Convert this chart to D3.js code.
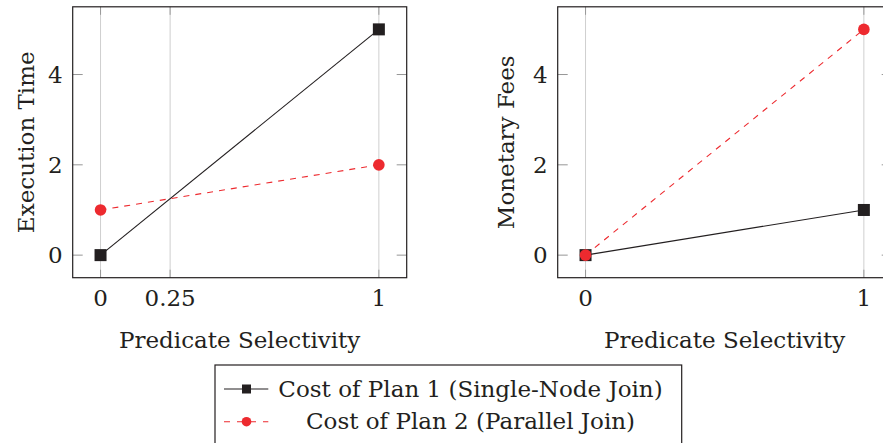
<!DOCTYPE html>
<html><head><meta charset="utf-8">
<script src="https://cdn.jsdelivr.net/npm/d3@7"></script>
<style>
html,body{margin:0;padding:0;background:#fff;}
svg{display:block;}
text{font-family:"DejaVu Serif",serif;fill:#231f20;}
</style></head>
<body>
<svg id="chart" width="883" height="443"></svg>
<script>
// ---- data ----
const selectivity = [0, 1];
const execPlan1 = [0, 5];
const execPlan2 = [1, 2];
const feesPlan1 = [0, 1];
const feesPlan2 = [0, 5];
const xTicksLeft = [0, 0.25, 1];
const xTickLabelsLeft = ["0", "0.25", "1"];
const xTicksRight = [0, 1];
const xTickLabelsRight = ["0", "1"];
const yTicks = [0, 2, 4];
const yTickLabels = ["0", "2", "4"];
const seriesNames = ["Cost of Plan 1 (Single-Node Join)", "Cost of Plan 2 (Parallel Join)"];
const xLabel = "Predicate Selectivity";
const yLabels = ["Execution Time", "Monetary Fees"];

const black = "#231f20", red = "#ed2a2f", grid = "#cfcfcf", tickC = "#8a8a8a";
const FS = 23;
const svg = d3.select("#chart");

function panel(opts){
  const x = d3.scaleLinear().domain([-0.1, 1.1]).range([opts.left, opts.right]);
  const y = d3.scaleLinear().domain([-0.5, 5.5]).range([277.7, 6.8]);
  const g = svg.append("g");
  // grid
  g.selectAll("line.grid").data(opts.xt).enter().append("line")
    .attr("x1", d=>x(d)).attr("x2", d=>x(d)).attr("y1", y(5.5)).attr("y2", y(-0.5))
    .attr("stroke", grid).attr("stroke-width", 1);
  // x ticks top & bottom
  opts.xt.forEach(d=>{
    g.append("line").attr("x1", x(d)).attr("x2", x(d)).attr("y1", y(-0.5)).attr("y2", y(-0.5)-8).attr("stroke", tickC).attr("stroke-width",0.8);
    g.append("line").attr("x1", x(d)).attr("x2", x(d)).attr("y1", y(5.5)).attr("y2", y(5.5)+8).attr("stroke", tickC).attr("stroke-width",0.8);
  });
  // y ticks left & right
  yTicks.forEach(d=>{
    g.append("line").attr("x1", x(-0.1)).attr("x2", x(-0.1)+10).attr("y1", y(d)).attr("y2", y(d)).attr("stroke", tickC).attr("stroke-width",0.9);
    g.append("line").attr("x1", x(1.1)).attr("x2", x(1.1)-10).attr("y1", y(d)).attr("y2", y(d)).attr("stroke", tickC).attr("stroke-width",0.9);
  });
  // box
  g.append("rect").attr("x", x(-0.1)).attr("y", y(5.5)).attr("width", x(1.1)-x(-0.1)).attr("height", y(-0.5)-y(5.5))
    .attr("fill","none").attr("stroke", black).attr("stroke-width", 1.2);
  // tick labels
  g.selectAll("text.xt").data(opts.xt).enter().append("text")
    .attr("x", d=>x(d)).attr("y", 306).attr("text-anchor","middle").attr("font-size", FS)
    .text((d,i)=>opts.xtl[i]);
  g.selectAll("text.yt").data(yTicks).enter().append("text")
    .attr("x", x(-0.1)-10).attr("y", d=>y(d)+8.3).attr("text-anchor","end").attr("font-size", FS)
    .text((d,i)=>yTickLabels[i]);
  // axis labels
  g.append("text").attr("x", (x(-0.1)+x(1.1))/2).attr("y", 347.7).attr("text-anchor","middle").attr("font-size", FS).text(xLabel);
  g.append("text").attr("transform", `translate(${opts.ylx},${(y(-0.5)+y(5.5))/2}) rotate(-90)`)
    .attr("text-anchor","middle").attr("font-size", FS).text(opts.ylabel);
  // series
  const line = d3.line().x(d=>x(d[0])).y(d=>y(d[1]));
  const p1 = selectivity.map((s,i)=>[s, opts.s1[i]]);
  const p2 = selectivity.map((s,i)=>[s, opts.s2[i]]);
  g.append("path").attr("d", line(p1)).attr("fill","none").attr("stroke", black).attr("stroke-width", 1.1);
  g.selectAll("rect.m1").data(p1).enter().append("rect")
    .attr("x", d=>x(d[0])-6).attr("y", d=>y(d[1])-6).attr("width",12).attr("height",12).attr("fill", black);
  g.append("path").attr("d", line(p2)).attr("fill","none").attr("stroke", red).attr("stroke-width", 1.1).attr("stroke-dasharray","6,6");
  g.selectAll("circle.m2").data(p2).enter().append("circle")
    .attr("cx", d=>x(d[0])).attr("cy", d=>y(d[1])).attr("r", 5.8).attr("fill", red);
}

panel({left:72.7, right:406.7, xt:xTicksLeft, xtl:xTickLabelsLeft, ylabel:yLabels[0], ylx:33.5, s1:execPlan1, s2:execPlan2});
panel({left:557.7, right:891.7, xt:xTicksRight, xtl:xTickLabelsRight, ylabel:yLabels[1], ylx:513.5, s1:feesPlan1, s2:feesPlan2});

// legend
const lg = svg.append("g");
lg.append("rect").attr("x",215).attr("y",365).attr("width",466.7).attr("height",100)
  .attr("fill","#fff").attr("stroke", black).attr("stroke-width",1.2);
const rows = [389, 421.7];
const textCenter = 470.5;
// row 1
lg.append("line").attr("x1",224).attr("x2",268.3).attr("y1",rows[0]).attr("y2",rows[0]).attr("stroke",black).attr("stroke-width",1.1);
lg.append("rect").attr("x",246.5-4.5).attr("y",rows[0]-4.5).attr("width",9).attr("height",9).attr("fill",black);
lg.append("text").attr("x",textCenter).attr("y",396.7).attr("text-anchor","middle").attr("font-size",FS).text(seriesNames[0]);
// row 2
lg.append("line").attr("x1",224).attr("x2",268.3).attr("y1",rows[1]).attr("y2",rows[1]).attr("stroke",red).attr("stroke-width",1.1).attr("stroke-dasharray","6,7");
lg.append("circle").attr("cx",246.5).attr("cy",rows[1]).attr("r",4.8).attr("fill",red);
lg.append("text").attr("x",textCenter).attr("y",428.5).attr("text-anchor","middle").attr("font-size",FS).text(seriesNames[1]);
</script>
</body></html>
